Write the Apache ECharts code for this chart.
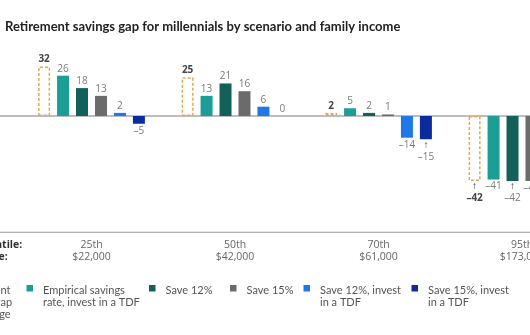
<!DOCTYPE html>
<html><head><meta charset="utf-8">
<script src="https://cdn.jsdelivr.net/npm/echarts@6/dist/echarts.min.js"></script>
<style>html,body{margin:0;padding:0;background:#fff}#c{width:530px;height:335px}</style>
</head><body><div id="c"></div>
<script>
// ---- data ----
const titleText = 'Retirement savings gap for millennials by scenario and family income';
const percentiles = ['25th', '50th', '70th', '95th'];
const incomes = ['$22,000', '$42,000', '$61,000', '$173,000'];
const seriesNames = [
  'Retirement\nsavings gap\npercentage',
  'Empirical savings\nrate, invest in a TDF',
  'Save 12%',
  'Save 15%',
  'Save 12%, invest\nin a TDF',
  'Save 15%, invest\nin a TDF'
];
const baseline   = [32, 25, 2, -42];
const empirical  = [26, 13, 5, -41];
const save12     = [18, 21, 2, -42];
const save15     = [13, 16, 1, -42];
const save12tdf  = [2, 6, -14, -53];
const save15tdf  = [-5, 0, -15, -54];
const rowLabels = ['Percentile:', 'Income:'];

// ---- style ----
const colors = ['#E2A852', '#1A9E96', '#135F59', '#6B6B6B', '#1E78E6', '#0B2C9C'];
const arrowPoints = { 5: [2], 0: [3], 2: [3] }; // labels shown with pointer arrow
const allData = [baseline, empirical, save12, save15, save12tdf, save15tdf];
const fmt = v => v < 0 ? '\u2013' + Math.abs(v) : String(v);
const numFont = '"Open Sans", sans-serif';
const txtFont = 'Lato, sans-serif';

const chart = echarts.init(document.getElementById('c'), null, { renderer: 'canvas' });

const series = allData.map((d, si) => ({
  name: seriesNames[si],
  type: 'bar',
  barWidth: 12,
  barGap: '58%',
  data: d.map((v, di) => {
    const arrow = (arrowPoints[si] || []).includes(di);
    const item = { value: v };
    item.label = {
      show: true,
      position: v < 0 ? 'bottom' : 'top',
      distance: arrow ? 1 : 2,
      formatter: arrow ? '{a|\u2191}\n{b|' + fmt(v) + '}' : fmt(v),
      rich: arrow ? {
        a: { fontSize: 10, lineHeight: 9, color: '#222', fontFamily: numFont, fontWeight: 'bold' },
        b: { fontSize: 10, lineHeight: 15, color: si === 0 ? '#444' : '#7a7a7a', fontFamily: numFont, fontWeight: si === 0 ? 'bold' : 'normal' }
      } : undefined
    };
    return item;
  }),
  itemStyle: si === 0
    ? { color: 'rgba(0,0,0,0)', borderColor: colors[0], borderWidth: 1.5, borderType: [3, 2] }
    : { color: colors[si] },
  label: {
    show: true,
    fontSize: 10,
    fontFamily: numFont,
    color: si === 0 ? '#444' : '#7a7a7a',
    fontWeight: si === 0 ? 'bold' : 'normal'
  },
  silent: true,
  animation: false
}));

const option = {
  animation: false,
  grid: { left: 19.75, right: -63.75, top: 54, bottom: 102.75, containLabel: false, outerBoundsMode: 'none' },
  xAxis: {
    type: 'category',
    data: percentiles,
    axisLine: { show: false },
    axisTick: { show: false },
    axisLabel: {
      margin: 7,
      interval: 0,
      fontSize: 10.5,
      lineHeight: 12,
      color: '#666',
      fontFamily: numFont,
      formatter: (v, i) => v + '\n' + incomes[i]
    }
  },
  yAxis: { type: 'value', min: -75, max: 40, show: false, splitLine: { show: false } },
  series: series
};
chart.setOption(option);

// guide lines and texts derived from the axis scales
const y0 = chart.convertToPixel({ yAxisIndex: 0 }, 0);
const yBot = chart.convertToPixel({ yAxisIndex: 0 }, -75);
const graphics = [
  { type: 'text', left: 5, top: 20, style: { text: titleText, font: 'bold 13px ' + txtFont, fill: '#222' } },
  { type: 'line', z: -1, shape: { x1: 0, y1: y0, x2: 530, y2: y0 }, style: { stroke: '#bdbdbd', lineWidth: 2 } },
  { type: 'line', shape: { x1: 0, y1: yBot, x2: 530, y2: yBot }, style: { stroke: '#9a9a9a', lineWidth: 1.2 } },
  { type: 'text', x: -34, y: yBot + 7, style: { text: rowLabels.join('\n'), font: 'bold 10.5px ' + numFont, lineHeight: 12, fill: '#333' } }
];
// legend
const legendX = [-43, 26.5, 149, 230, 303.5, 411.5];
const legendY = 285;
seriesNames.forEach((n, i) => {
  if (i === 0) {
    graphics.push({ type: 'rect', shape: { x: legendX[0] - 18, y: legendY, width: 7, height: 11 }, style: { fill: 'none', stroke: colors[0], lineDash: [2, 1.5] } });
  } else {
    graphics.push({ type: 'rect', shape: { x: legendX[i], y: legendY, width: 6.5, height: 6.5 }, style: { fill: colors[i] } });
  }
  graphics.push({ type: 'text', x: i === 0 ? legendX[0] : legendX[i] + 16.5, y: legendY - 1, style: { text: n, font: '11px ' + txtFont, lineHeight: 12, fill: '#555' } });
});
chart.setOption({ graphic: graphics });
</script></body></html>
